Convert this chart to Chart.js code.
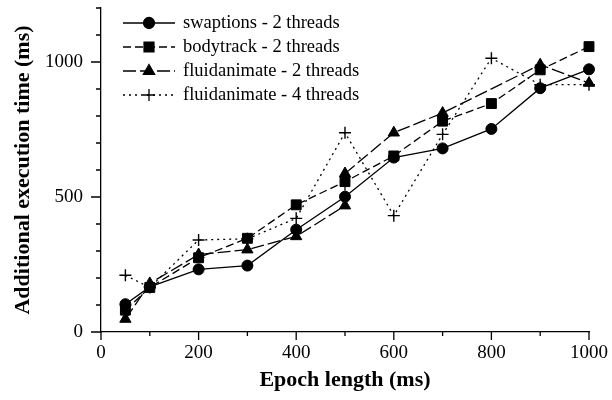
<!DOCTYPE html>
<html>
<head>
<title>Epoch length</title>
<script src="https://cdn.jsdelivr.net/npm/chart.js@4/dist/chart.umd.min.js"></script>
<style>
  body { margin: 0; background: #fff; }
</style>
</head>
<body>
<canvas id="myChart" width="612" height="400"></canvas>
<script>
// values (ms)
const epochs = [50, 100, 200, 300, 400, 500, 600, 700, 800, 900, 1000];
const swaptions2 = [103, 167, 232, 246, 379, 501, 646, 680, 752, 903, 973];
const bodytrack2 = [81, 165, 275, 347, 471, 557, 652, 781, 846, 971, 1057];
const fluidEpochs2 = [50, 100, 200, 300, 400, 500, 500, 600, 700, 900, 1000];
const fluidanimate2 = [48, 180, 287, 305, 354, 468, 587, 738, 811, 990, 922];
const fluidanimate4 = [210, 165, 341, 345, 421, 738, 431, 732, 1014, 916, 916];

const seriesNames = ['swaptions - 2 threads', 'bodytrack - 2 threads',
                     'fluidanimate - 2 threads', 'fluidanimate - 4 threads'];
const xLabels = [0, 200, 400, 600, 800, 1000];
const yLabels = [0, 500, 1000];
const xTicks = [0, 100, 200, 300, 400, 500, 600, 700, 800, 900, 1000];
const yTicks = [0, 100, 200, 300, 400, 500, 600, 700, 800, 900, 1000, 1100, 1200];

function points(xs, ys) {
    return xs.map((x, i) => ({x: x, y: ys[i]}));
}

Chart.defaults.font.family = '"Liberation Serif", "Times New Roman", serif';
Chart.defaults.color = '#000';

// tick marks: long at labelled values, short in between
const tickMarks = {
    id: 'tickMarks',
    afterDraw(chart) {
        const ctx = chart.ctx, sx = chart.scales.x, sy = chart.scales.y;
        ctx.save();
        ctx.strokeStyle = '#000';
        ctx.lineWidth = 1.3;
        ctx.beginPath();
        xTicks.forEach(v => {
            const px = sx.getPixelForValue(v);
            const len = xLabels.includes(v) ? 8 : 4;
            ctx.moveTo(px, sx.top);
            ctx.lineTo(px, sx.top + len);
        });
        yTicks.forEach(v => {
            const py = sy.getPixelForValue(v);
            const len = yLabels.includes(v) ? 10 : 5;
            ctx.moveTo(sy.right, py);
            ctx.lineTo(sy.right - len, py);
        });
        ctx.stroke();
        ctx.restore();
    }
};

// legend with line sample + marker
const lineLegend = {
    id: 'lineLegend',
    afterDatasetsDraw(chart) {
        const ctx = chart.ctx;
        ctx.save();
        chart.data.datasets.forEach((ds, i) => {
            const yy = 23 + i * 24;
            ctx.strokeStyle = '#000';
            ctx.fillStyle = '#000';
            ctx.lineWidth = ds.borderWidth;
            ctx.setLineDash(ds.borderDash || []);
            ctx.beginPath();
            ctx.moveTo(123, yy);
            ctx.lineTo(175, yy);
            ctx.stroke();
            ctx.setLineDash([]);
            Chart.helpers.drawPoint(ctx, {
                pointStyle: ds.pointStyle,
                radius: ds.pointRadius,
                borderWidth: ds.pointBorderWidth,
                rotation: 0
            }, 149, yy);
            ctx.font = '18.5px "Liberation Serif"';
            ctx.textBaseline = 'middle';
            ctx.textAlign = 'left';
            ctx.fillText(ds.label, 183, yy);
        });
        ctx.restore();
    }
};

const ctx = document.getElementById('myChart');
new Chart(ctx, {
    type: 'line',
    data: {
        datasets: [
            {
                label: seriesNames[0],
                data: points(epochs, swaptions2),
                borderColor: '#000', backgroundColor: '#000',
                borderWidth: 1.3, borderDash: [],
                pointStyle: 'circle', pointRadius: 5.5, pointBorderWidth: 1,
                clip: false
            },
            {
                label: seriesNames[1],
                data: points(epochs, bodytrack2),
                borderColor: '#000', backgroundColor: '#000',
                borderWidth: 1.3, borderDash: [8, 4],
                pointStyle: 'rect', pointRadius: 7, pointBorderWidth: 1,
                clip: false
            },
            {
                label: seriesNames[2],
                data: points(fluidEpochs2, fluidanimate2),
                borderColor: '#000', backgroundColor: '#000',
                borderWidth: 1.3, borderDash: [13, 4],
                pointStyle: 'triangle', pointRadius: 6.5, pointBorderWidth: 1,
                clip: false
            },
            {
                label: seriesNames[3],
                data: points(epochs, fluidanimate4),
                borderColor: '#000', backgroundColor: '#000',
                borderWidth: 1.3, borderDash: [2, 4],
                pointStyle: 'cross', pointRadius: 6, pointBorderWidth: 1.4,
                clip: false
            }
        ]
    },
    options: {
        responsive: false,
        animation: false,
        devicePixelRatio: 1,
        layout: { padding: { top: 7, right: 23, left: 0, bottom: 0 } },
        plugins: { legend: { display: false }, tooltip: { enabled: false } },
        scales: {
            x: {
                type: 'linear',
                min: 0, max: 1000,
                grid: { display: false, drawTicks: false },
                border: { display: true, color: '#000', width: 1.3 },
                afterBuildTicks(scale) { scale.ticks = xLabels.map(v => ({value: v})); },
                ticks: { padding: 10, font: { size: 19 }, color: '#000', autoSkip: false, maxRotation: 0,
                         callback: v => String(v) },
                title: {
                    display: true, text: 'Epoch length (ms)',
                    font: { size: 22, weight: 'bold' }, color: '#000',
                    padding: { top: 0, bottom: 6 }
                },
                afterFit(scale) {
                    scale.height = 68;
                    scale.paddingLeft = 0; scale.paddingRight = 0;
                }
            },
            y: {
                type: 'linear',
                min: 0, max: 1200,
                grid: { display: false, drawTicks: false },
                border: { display: true, color: '#000', width: 1.3 },
                afterBuildTicks(scale) { scale.ticks = yLabels.map(v => ({value: v})); },
                ticks: { padding: 18, font: { size: 19 }, color: '#000', autoSkip: false,
                         callback: v => String(v) },
                title: {
                    display: true, text: 'Additional execution time (ms)',
                    font: { size: 22, weight: 'bold' }, color: '#000',
                    padding: { top: 10, bottom: 0 }
                },
                afterFit(scale) {
                    scale.width = 101;
                    scale.paddingTop = 0; scale.paddingBottom = 0;
                }
            }
        }
    },
    plugins: [tickMarks, lineLegend]
});
</script>
</body>
</html>
